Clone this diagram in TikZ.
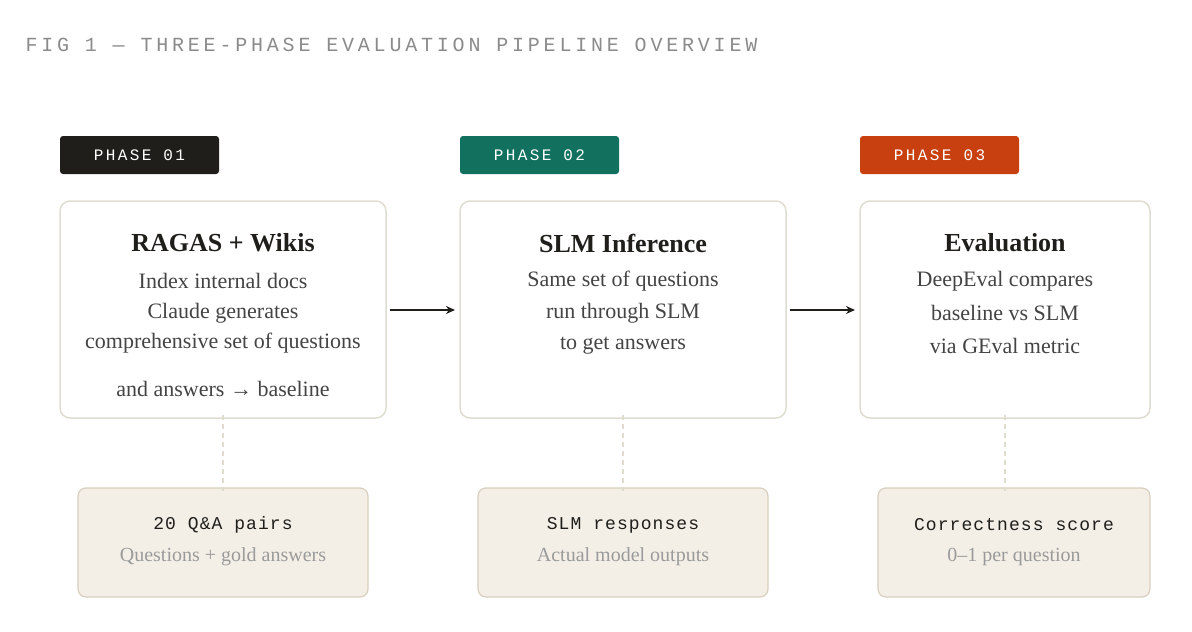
\documentclass[tikz,border=0pt]{standalone}
\usepackage{fontspec}
\setmainfont{Liberation Serif}
\newfontfamily\titlefont[LetterSpace=19]{Liberation Mono}
\newfontfamily\tagfont[LetterSpace=15]{Liberation Mono}
\newfontfamily\outfont[LetterSpace=6]{Liberation Mono}
\usetikzlibrary{positioning,arrows.meta}
\definecolor{inkdark}{HTML}{1F1E1A}
\definecolor{tealtag}{HTML}{12705F}
\definecolor{rusttag}{HTML}{C8400F}
\definecolor{boxline}{HTML}{E0DDD0}
\definecolor{outfill}{HTML}{F3EFE7}
\definecolor{outline}{HTML}{D8CFBF}
\definecolor{bodytext}{HTML}{444444}
\definecolor{softtext}{HTML}{9A9A9A}
\tikzset{
  phase tag/.style={rounded corners=3pt,text=white,font=\tagfont\fontsize{16}{18}\selectfont},
  stage box/.style={draw=boxline,line width=1.5pt,fill=white,rounded corners=10pt},
  out box/.style={draw=outline,line width=1.2pt,fill=outfill,rounded corners=8pt},
  body/.style={text=bodytext,font=\fontsize{22}{24}\selectfont},
  heading/.style={text=inkdark,font=\bfseries\fontsize{26}{28}\selectfont},
  out label/.style={text=inkdark,font=\outfont\fontsize{18}{20}\selectfont},
  out note/.style={text=softtext,font=\fontsize{20}{22}\selectfont},
  flow/.style={-{Stealth[length=9pt,width=8pt]},line width=1.5pt,draw=inkdark},
  tie/.style={draw=boxline,line width=1.2pt,dash pattern=on 5pt off 4pt}
}
\begin{document}
\begin{tikzpicture}[x=1pt,y=-1pt]
  \useasboundingbox[fill=white] (0,0) rectangle (1192,632);

%TITLE
  \node[anchor=west,text=softtext!90!black,font=\titlefont\fontsize{20}{22}\selectfont] (title) at (22,45) {FIG 1 — THREE-PHASE EVALUATION PIPELINE OVERVIEW};

%PHASE TAGS
  \fill[phase tag,fill=inkdark] (60,136) rectangle (219,174);
  \node[phase tag] (tag1) at (139.5,155) {PHASE 01};
  \fill[phase tag,fill=tealtag] (460,136) rectangle (619,174);
  \node[phase tag] (tag2) at (539.5,155) {PHASE 02};
  \fill[phase tag,fill=rusttag] (860,136) rectangle (1019,174);
  \node[phase tag] (tag3) at (939.5,155) {PHASE 03};

%STAGE BOXES
  \draw[stage box] (60,201) rectangle (386,418);
  \coordinate (s1E) at (386,310); \coordinate (s1S) at (223,418);
  \node[heading] (h1) at (223,243) {RAGAS + Wikis};
  \node[body] at (223,281) {Index internal docs};
  \node[body] at (223,313) {Claude generates};
  \node[body] at (223,343) {comprehensive set of questions};
  \node[body] at (223,389) {and answers → baseline};

  \draw[stage box] (460,201) rectangle (786,418);
  \coordinate (s2W) at (460,310); \coordinate (s2E) at (786,310); \coordinate (s2S) at (623,418);
  \node[heading] (h2) at (623,243) {SLM Inference};
  \node[body] at (623,281) {Same set of questions};
  \node[body] at (623,313) {run through SLM};
  \node[body] at (623,346) {to get answers};

  \draw[stage box] (860,201) rectangle (1150,418);
  \coordinate (s3W) at (860,310); \coordinate (s3S) at (1005,418);
  \node[heading] (h3) at (1005,243) {Evaluation};
  \node[body] at (1005,281) {DeepEval compares};
  \node[body] at (1005,313) {baseline vs SLM};
  \node[body] at (1005,346) {via GEval metric};

%FLOW ARROWS
  \draw[flow] ([xshift=4pt]s1E) -- ([xshift=-5pt]s2W);
  \draw[flow] ([xshift=4pt]s2E) -- ([xshift=-5pt]s3W);

%OUTPUT BOXES
  \draw[out box] (78,488) rectangle (368,597);
  \coordinate (o1N) at (223,488);
  \node[out label] at (223,525) {20 Q\&A pairs};
  \node[out note] at (223,557) {Questions + gold answers};

  \draw[out box] (478,488) rectangle (768,597);
  \coordinate (o2N) at (623,488);
  \node[out label] at (623,525) {SLM responses};
  \node[out note] at (623,557) {Actual model outputs};

  \draw[out box] (878,488) rectangle (1150,597);
  \coordinate (o3N) at (1005,488);
  \node[out label] at (1014,525) {Correctness score};
  \node[out note] at (1014,557) {0–1 per question};

  \draw[tie] ([yshift=3pt]s1S) -- ([yshift=-3pt]o1N);
  \draw[tie] ([yshift=3pt]s2S) -- ([yshift=-3pt]o2N);
  \draw[tie] ([yshift=3pt]s3S) -- ([yshift=-3pt]o3N);
\end{tikzpicture}
\end{document}
